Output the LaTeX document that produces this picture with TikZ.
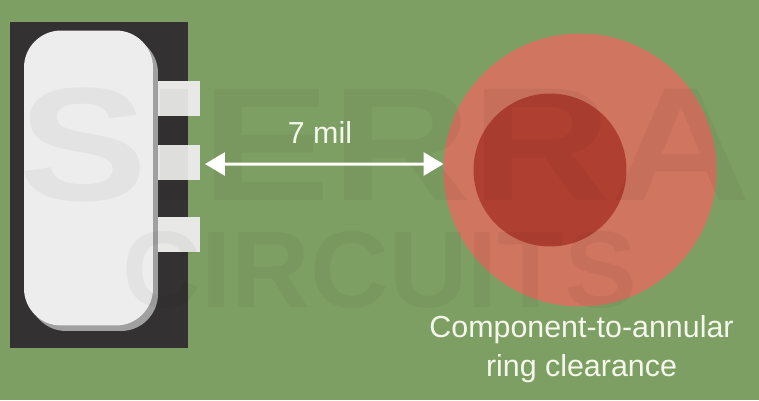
\documentclass[tikz,border=0pt]{standalone}
\usepackage{xcolor}
\usepackage{fontspec}
\setmainfont{Liberation Sans}
\usetikzlibrary{arrows.meta, positioning}
\definecolor{boardgreen}{RGB}{126, 159, 99}
\definecolor{padblack}{RGB}{51, 49, 50}
\definecolor{bodywhite}{RGB}{237, 237, 237}
\definecolor{bodyshadow}{RGB}{160, 160, 160}
\definecolor{leadgray}{RGB}{232, 232, 230}
\definecolor{ringcolor}{RGB}{207, 117, 96}
\definecolor{holecolor}{RGB}{175, 63, 49}
\definecolor{labelwhite}{RGB}{244, 248, 236}

\begin{document}
\begin{tikzpicture}[
    x=0.02cm, y=-0.02cm,
    every node/.style={inner sep=0pt, outer sep=0pt},
    footprint/.style={fill=padblack, minimum width=3.56cm, minimum height=6.52cm},
    chip/.style={rounded corners=0.74cm, minimum width=2.58cm, minimum height=5.9cm},
    lead/.style={fill=leadgray, minimum width=0.84cm, minimum height=0.7cm},
    dimarrow/.style={{Triangle[length=0.4cm, width=0.46cm]}-{Triangle[length=0.4cm, width=0.46cm]}, line width=0.06cm, draw=white, fill=white},
    caption/.style={text=labelwhite, font=\fontsize{17.3}{21.8}\selectfont, align=center},
    watermark/.style={text=black, text opacity=0.04}
]
    % Board
    \fill[boardgreen] (0,0) rectangle (759,400);
    \useasboundingbox (0,0) rectangle (759,400);

    % Component
    \node[footprint] (footprint) at (99,185) {};
    \node[chip, fill=bodyshadow] (chipshadow) at (93.5,183.5) {};
    \node[chip, fill=bodywhite] (chip) at (88.5,178) {};
    \node[lead] (leadA) at (179,98.5) {};
    \node[lead] (leadB) at (179,162.5) {};
    \node[lead] (leadC) at (179,234.5) {};

    % Annular ring
    \node[circle, fill=ringcolor, minimum size=5.46cm] (ring) at (580,170) {};
    \node[circle, fill=holecolor, minimum size=3.06cm] (hole) at (550,170) {};

    % Watermark
    \node[watermark, xscale=1.2, font=\fontsize{92}{92}\bfseries\selectfont] (sierra) at (385,145) {SIERRA};
    \node[watermark, font=\fontsize{62}{62}\bfseries\selectfont] (circuits) at (380,270) {CIRCUITS};

    % Clearance arrow
    \draw[dimarrow] ([shift={(0.1cm,-0.03cm)}]leadB.east) -- ([yshift=0.12cm]ring.west);

    % Labels
    \node[caption] (gap) at (320,132) {7 mil};
    \node[caption] (clearance) at (581.5,349) {Component-to-annular\\ring clearance};
\end{tikzpicture}
\end{document}
